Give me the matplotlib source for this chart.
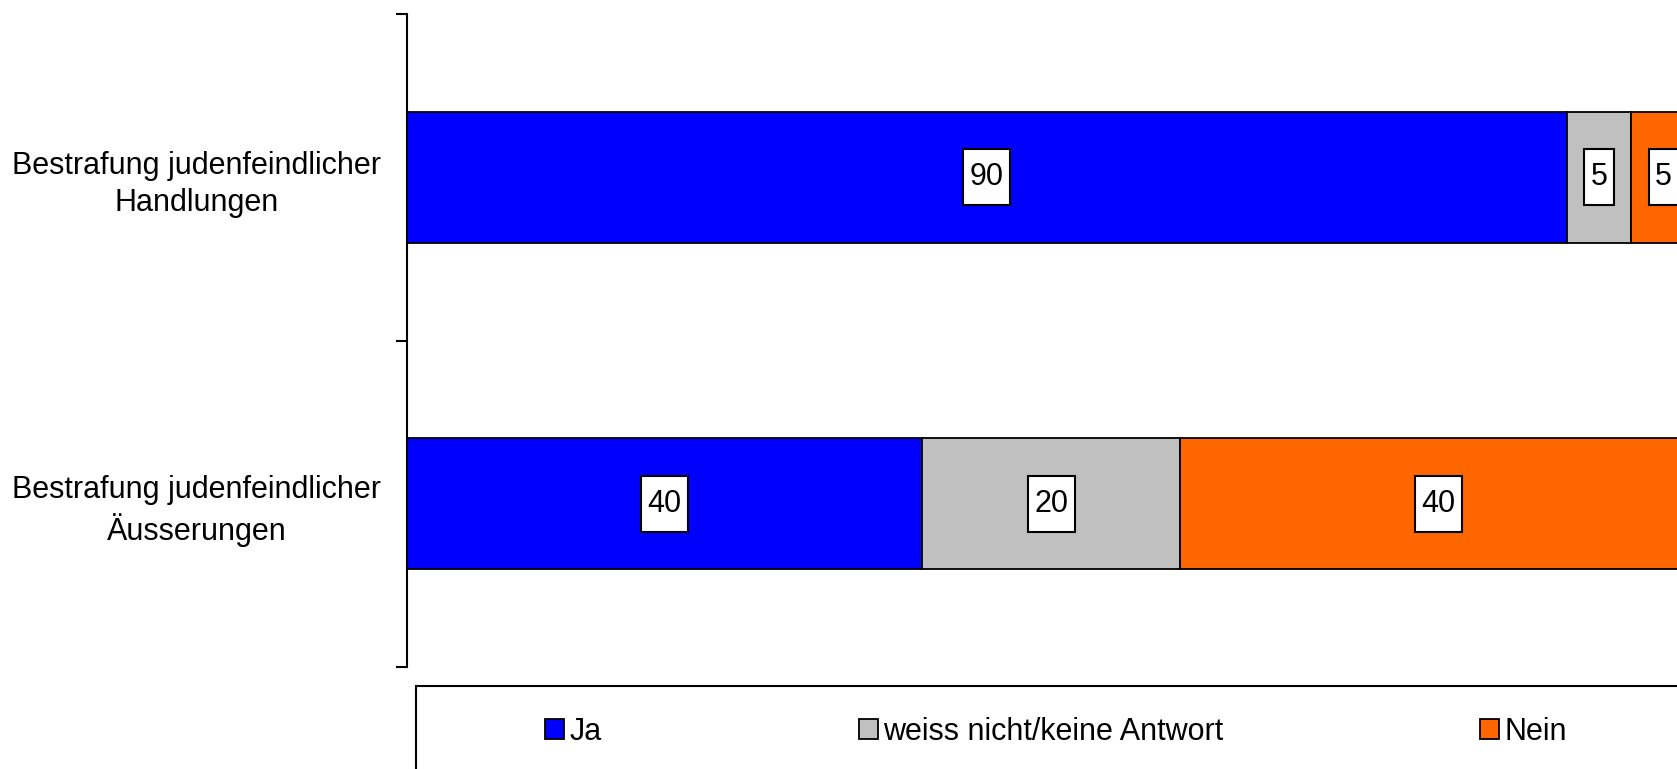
import matplotlib
matplotlib.use("Agg")
import matplotlib.pyplot as plt
from matplotlib.patches import Rectangle
from matplotlib.path import Path

# data (percent)
categories = ["Bestrafung judenfeindlicher\nHandlungen",
              "Bestrafung judenfeindlicher\nÄusserungen"]
ja = [90, 40]
weiss_nicht = [5, 20]
nein = [5, 40]

series_names = ["Ja", "weiss nicht/keine Antwort", "Nein"]
series_colors = ["#0000FF", "#C0C0C0", "#FF6600"]

plt.rcParams["font.family"] = ["Liberation Sans", "DejaVu Sans"]
FS = 22


def label_box(x0, y0, width, height, mutation_size):
    # square box with less padding at the sides than above/below (Excel look)
    px = 0.21 * mutation_size
    py = 0.43 * mutation_size
    x1, y1 = x0 - px, y0 - py
    x2, y2 = x0 + width + px, y0 + height + py
    return Path([(x1, y1), (x2, y1), (x2, y2), (x1, y2), (x1, y1)], closed=True)


fig = plt.figure(figsize=(16.77, 7.69), dpi=100)
# the plot area runs past the right edge of the picture, like the original
ax = fig.add_axes([0.2424, 0.1326, 0.7689, 0.8492])

ypos = list(range(len(categories)))
left = [0] * len(categories)
for name, vals, color in zip(series_names, [ja, weiss_nicht, nein], series_colors):
    ax.barh(ypos, vals, left=left, height=0.4, color=color,
            edgecolor="black", linewidth=1.3, label=name)
    for y, v, l in zip(ypos, vals, left):
        ax.text(l + v / 2, y, str(v), ha="center", va="center", fontsize=FS,
                bbox=dict(boxstyle=label_box, fc="white", ec="black", lw=1.5),
                clip_on=False)
    left = [l + v for l, v in zip(left, vals)]

ax.set_xlim(0, 100)
ax.set_ylim(1.5, -0.5)

# tick marks between categories, labels in the middle
ax.set_yticks([-0.5, 0.5, 1.5])
ax.set_yticklabels([])
ax.set_yticks(ypos, minor=True)
ax.set_yticklabels(categories, minor=True, fontsize=FS, multialignment="center",
                   linespacing=1.3)
ax.tick_params(axis="y", which="major", direction="out", length=8, width=1.5)
ax.tick_params(axis="y", which="minor", length=0, pad=18.5)

ax.xaxis.set_visible(False)
for side in ["top", "right", "bottom"]:
    ax.spines[side].set_visible(False)
ax.spines["left"].set_linewidth(1.5)

# legend box, cut off at the bottom and right like the original
fig.patches.append(Rectangle((416 / 1677, -0.1), 0.8, 0.2085,
                             transform=fig.transFigure, fill=False,
                             ec="black", lw=1.5))
fig.legend(loc="center left", bbox_to_anchor=(545 / 1677, 1 - 731.5 / 769),
           ncol=3, frameon=False, fontsize=FS, handlelength=0.62,
           handleheight=0.62, handletextpad=0.17, columnspacing=8.42,
           borderpad=0, borderaxespad=0)

fig.savefig("out.png", dpi=100)
